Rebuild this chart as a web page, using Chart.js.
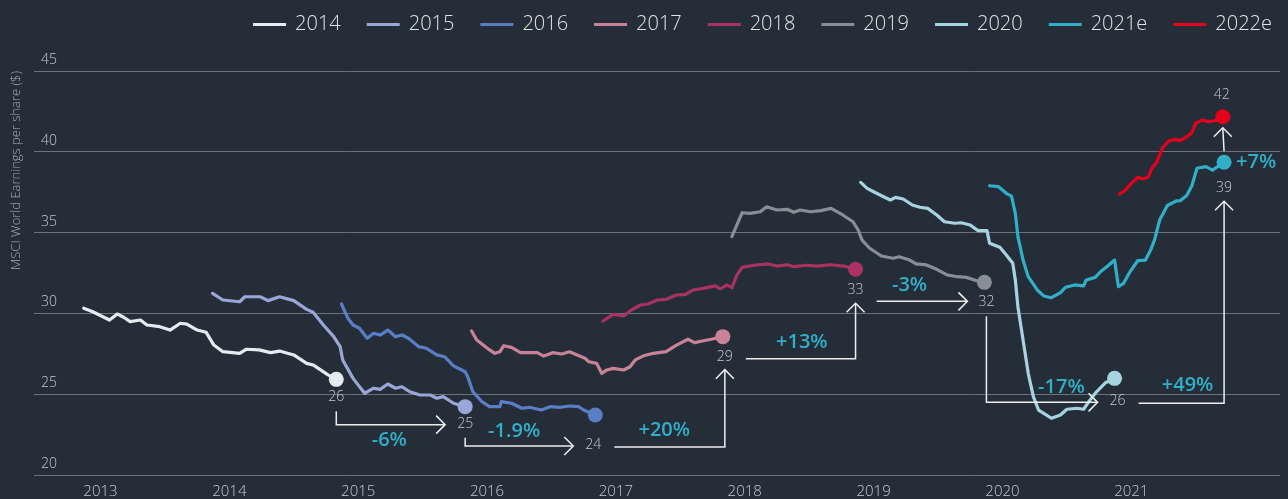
<!DOCTYPE html>
<html>
<head>
<meta charset="utf-8">
<title>MSCI World EPS estimates</title>
<script src="https://cdn.jsdelivr.net/npm/chart.js@4.4.1/dist/chart.umd.min.js"></script>
<style>
  html, body { margin: 0; padding: 0; background: #252e38; }
  #wrap { width: 1288px; height: 499px; }
</style>
</head>
<body>
<div id="wrap"><canvas id="epsChart" width="1288" height="499"></canvas></div>
<script>
// series names, colours and tick labels
const seriesNames = ['2014', '2015', '2016', '2017', '2018', '2019', '2020', '2021e', '2022e'];
const seriesColors = ['#e2edf2', '#9aa6d7', '#5a7ec5', '#c98399', '#a93263', '#878e95', '#a7d3e0', '#31afc8', '#e6001c'];
const yearTicks = [2013, 2014, 2015, 2016, 2017, 2018, 2019, 2020, 2021];
const epsTicks = [20, 25, 30, 35, 40, 45];

// consensus EPS estimate for each year (x = decimal year, y = $)
const dates14 = [2012.87, 2012.94, 2013.07, 2013.13, 2013.18, 2013.23, 2013.31, 2013.36, 2013.46, 2013.54, 2013.62, 2013.67, 2013.75, 2013.82, 2013.88, 2013.95, 2014.08, 2014.13, 2014.23, 2014.32, 2014.39, 2014.50, 2014.60, 2014.65, 2014.76, 2014.83];
const eps14 = [30.32, 30.10, 29.59, 29.96, 29.76, 29.49, 29.59, 29.28, 29.18, 28.97, 29.39, 29.34, 28.97, 28.83, 28.04, 27.63, 27.53, 27.78, 27.74, 27.57, 27.67, 27.43, 26.91, 26.81, 26.23, 25.92];

const dates15 = [2013.87, 2013.95, 2014.08, 2014.12, 2014.24, 2014.30, 2014.39, 2014.50, 2014.60, 2014.65, 2014.73, 2014.81, 2014.86, 2014.88, 2014.96, 2015.05, 2015.12, 2015.17, 2015.23, 2015.29, 2015.34, 2015.40, 2015.48, 2015.56, 2015.61, 2015.66, 2015.74, 2015.83];
const eps15 = [31.24, 30.83, 30.72, 31.03, 31.03, 30.79, 31.03, 30.79, 30.25, 30.07, 29.28, 28.56, 27.94, 27.12, 25.98, 25.06, 25.37, 25.30, 25.63, 25.37, 25.46, 25.15, 24.95, 24.95, 24.75, 24.85, 24.44, 24.23];

const dates16 = [2014.87, 2014.92, 2014.96, 2015.01, 2015.07, 2015.12, 2015.17, 2015.23, 2015.29, 2015.34, 2015.39, 2015.47, 2015.53, 2015.61, 2015.67, 2015.74, 2015.83, 2015.85, 2015.89, 2015.96, 2016.02, 2016.10, 2016.11, 2016.19, 2016.27, 2016.33, 2016.42, 2016.49, 2016.57, 2016.64, 2016.71, 2016.75, 2016.84];
const eps16 = [30.58, 29.70, 29.28, 29.08, 28.46, 28.77, 28.66, 28.97, 28.56, 28.66, 28.46, 27.94, 27.84, 27.43, 27.32, 26.75, 26.39, 26.08, 25.15, 24.54, 24.23, 24.23, 24.54, 24.44, 24.13, 24.19, 24.02, 24.23, 24.19, 24.27, 24.23, 24.02, 23.71];

const dates17 = [2015.88, 2015.92, 2015.97, 2016.02, 2016.06, 2016.10, 2016.13, 2016.19, 2016.26, 2016.33, 2016.39, 2016.44, 2016.51, 2016.58, 2016.64, 2016.70, 2016.76, 2016.79, 2016.85, 2016.89, 2016.93, 2016.98, 2017.06, 2017.11, 2017.15, 2017.21, 2017.29, 2017.39, 2017.47, 2017.56, 2017.61, 2017.68, 2017.74, 2017.83];
const eps17 = [28.91, 28.35, 28.04, 27.74, 27.53, 27.63, 28.00, 27.90, 27.57, 27.57, 27.57, 27.36, 27.57, 27.49, 27.63, 27.43, 27.22, 27.01, 26.91, 26.29, 26.50, 26.60, 26.50, 26.70, 27.12, 27.36, 27.53, 27.63, 28.04, 28.40, 28.19, 28.31, 28.40, 28.56];

const dates18 = [2016.90, 2016.98, 2017.06, 2017.12, 2017.19, 2017.25, 2017.32, 2017.39, 2017.47, 2017.54, 2017.60, 2017.68, 2017.77, 2017.81, 2017.86, 2017.90, 2017.94, 2017.98, 2018.07, 2018.18, 2018.25, 2018.33, 2018.38, 2018.48, 2018.56, 2018.66, 2018.77, 2018.86];
const eps18 = [29.53, 29.94, 29.84, 30.21, 30.52, 30.58, 30.83, 30.87, 31.14, 31.18, 31.45, 31.55, 31.70, 31.51, 31.76, 31.59, 32.38, 32.85, 32.98, 33.06, 32.93, 33.01, 32.89, 32.98, 32.93, 33.01, 32.93, 32.73];

const dates19 = [2017.90, 2017.98, 2018.04, 2018.12, 2018.17, 2018.25, 2018.33, 2018.38, 2018.43, 2018.51, 2018.59, 2018.67, 2018.76, 2018.84, 2018.88, 2018.91, 2018.97, 2019.06, 2019.15, 2019.20, 2019.28, 2019.33, 2019.41, 2019.49, 2019.57, 2019.65, 2019.72, 2019.80, 2019.86];
const eps19 = [34.75, 36.23, 36.19, 36.29, 36.60, 36.40, 36.44, 36.26, 36.40, 36.29, 36.36, 36.50, 36.09, 35.67, 35.16, 34.54, 34.03, 33.55, 33.41, 33.51, 33.30, 33.06, 33.00, 32.73, 32.38, 32.27, 32.23, 32.02, 31.92];

const dates20 = [2018.90, 2018.95, 2019.00, 2019.05, 2019.13, 2019.17, 2019.23, 2019.30, 2019.36, 2019.42, 2019.49, 2019.55, 2019.63, 2019.68, 2019.75, 2019.81, 2019.88, 2019.90, 2019.98, 2020.03, 2020.08, 2020.10, 2020.12, 2020.16, 2020.20, 2020.24, 2020.28, 2020.33, 2020.38, 2020.45, 2020.50, 2020.58, 2020.63, 2020.67, 2020.73, 2020.80, 2020.87];
const eps20 = [38.11, 37.74, 37.53, 37.33, 37.02, 37.18, 37.08, 36.71, 36.57, 36.50, 36.09, 35.67, 35.58, 35.61, 35.47, 35.12, 35.12, 34.34, 34.09, 33.61, 33.10, 32.07, 30.41, 28.35, 26.29, 24.85, 24.02, 23.77, 23.51, 23.71, 24.07, 24.13, 24.07, 24.54, 25.15, 25.71, 25.98];

const dates21 = [2019.90, 2019.97, 2020.03, 2020.07, 2020.10, 2020.12, 2020.16, 2020.20, 2020.27, 2020.32, 2020.38, 2020.45, 2020.49, 2020.56, 2020.63, 2020.65, 2020.72, 2020.76, 2020.81, 2020.87, 2020.90, 2020.94, 2020.99, 2021.05, 2021.11, 2021.15, 2021.18, 2021.22, 2021.28, 2021.35, 2021.38, 2021.43, 2021.47, 2021.51, 2021.58, 2021.63, 2021.67, 2021.72];
const eps21 = [37.90, 37.84, 37.43, 37.26, 36.19, 34.75, 33.30, 32.27, 31.45, 31.08, 30.97, 31.28, 31.62, 31.76, 31.70, 32.07, 32.23, 32.58, 32.89, 33.30, 31.65, 31.86, 32.58, 33.26, 33.30, 33.92, 34.54, 35.78, 36.68, 36.96, 36.97, 37.30, 37.90, 38.98, 39.08, 38.87, 39.08, 39.35];

const dates22 = [2020.91, 2020.95, 2021.00, 2021.05, 2021.09, 2021.13, 2021.16, 2021.20, 2021.24, 2021.29, 2021.34, 2021.38, 2021.43, 2021.47, 2021.50, 2021.55, 2021.60, 2021.65, 2021.71];
const eps22 = [37.39, 37.59, 38.05, 38.42, 38.32, 38.42, 38.98, 39.39, 40.22, 40.67, 40.77, 40.69, 40.93, 41.18, 41.76, 41.97, 41.86, 41.92, 42.17];

// final values printed next to the end dots, and the change between them
const endLabels = ['26', '25', '24', '29', '33', '32', '26', '39', '42'];
const changeLabels = ['-6%', '-1.9%', '+20%', '+13%', '-3%', '-17%', '+49%', '+7%'];

const allDates = [dates14, dates15, dates16, dates17, dates18, dates19, dates20, dates21, dates22];
const allEps = [eps14, eps15, eps16, eps17, eps18, eps19, eps20, eps21, eps22];

// layout of the annotations (pixel offsets from the end dots)
const labelOffsets = [[0, 18], [0, 17], [-2, 30], [2, 20], [0, 21], [2, 20], [3, 23], [0, 26], [-1, -22]];
const connectorTypes = ['downRight', 'downRight', 'rightUp', 'rightUp', 'right', 'downRight', 'rightUp', 'up'];
const changeOffsets = [[53, 16], [49, -15], [50, -17], [56, -16], [33, -16], [75, -15], [49, -18], [12, 0]];

const tickColor = '#c3c8cd';
const fontFamily = '"Open Sans", "Noto Sans", sans-serif';

const datasets = seriesNames.map((name, i) => ({
    label: name,
    data: allDates[i].map((d, j) => ({ x: d, y: allEps[i][j] })),
    borderColor: seriesColors[i],
    backgroundColor: seriesColors[i],
    pointBackgroundColor: seriesColors[i],
    borderWidth: 3.2,
    borderJoinStyle: 'round',
    borderCapStyle: 'round',
    tension: 0,
    pointBorderWidth: 0,
    pointRadius: ctx => ctx.dataIndex === allDates[i].length - 1 ? 7.5 : 0,
    pointHoverRadius: 0,
    order: seriesNames.length - i
}));

function arrowHead(ctx, x, y, dir) {
    ctx.beginPath();
    if (dir === 'right') {
        ctx.moveTo(x - 9, y - 9);
        ctx.lineTo(x, y);
        ctx.lineTo(x - 9, y + 9);
    } else {
        ctx.moveTo(x - 9, y + 9);
        ctx.lineTo(x, y);
        ctx.lineTo(x + 9, y + 9);
    }
    ctx.stroke();
}

// end values, elbow arrows and % changes
const annotate = {
    id: 'annotate',
    afterDatasetsDraw(chart) {
        const { ctx, scales: { x, y } } = chart;
        const dots = allDates.map((d, i) => ({
            x: x.getPixelForValue(d[d.length - 1]),
            y: y.getPixelForValue(allEps[i][allEps[i].length - 1])
        }));
        const labels = dots.map((p, i) => ({ x: p.x + labelOffsets[i][0], y: p.y + labelOffsets[i][1] }));

        ctx.save();
        ctx.textAlign = 'center';
        ctx.textBaseline = 'middle';
        ctx.font = '300 14px ' + fontFamily;
        ctx.fillStyle = tickColor;
        labels.forEach((p, i) => ctx.fillText(endLabels[i], p.x, p.y));

        ctx.strokeStyle = '#eceef0';
        ctx.lineWidth = 1.5;
        ctx.lineJoin = 'miter';
        connectorTypes.forEach((type, i) => {
            const a = labels[i], b = labels[i + 1];
            let pts, dir, anchor;
            if (type === 'downRight') {
                pts = [[a.x, a.y + 14], [a.x, b.y + 1], [b.x - 20, b.y + 1]];
                dir = 'right';
                anchor = pts[1];
            } else if (type === 'rightUp') {
                pts = [[a.x + 21, a.y + 2], [b.x, a.y + 2], [b.x, b.y + 13]];
                dir = 'up';
                anchor = pts[0];
            } else if (type === 'right') {
                pts = [[a.x + 21, b.y - 1], [b.x - 19, b.y - 1]];
                dir = 'right';
                anchor = pts[0];
            } else {
                pts = [[dots[i].x, dots[i].y - 11], [dots[i + 1].x, dots[i + 1].y + 11]];
                dir = 'up';
                anchor = [dots[i].x, dots[i].y];
            }
            ctx.beginPath();
            ctx.moveTo(pts[0][0], pts[0][1]);
            for (let k = 1; k < pts.length; k++) ctx.lineTo(pts[k][0], pts[k][1]);
            ctx.stroke();
            const end = pts[pts.length - 1];
            arrowHead(ctx, end[0], end[1], dir);

            ctx.font = '600 20px ' + fontFamily;
            ctx.fillStyle = '#31afc8';
            ctx.textAlign = type === 'up' ? 'left' : 'center';
            ctx.fillText(changeLabels[i], anchor[0] + changeOffsets[i][0], anchor[1] + changeOffsets[i][1]);
        });
        ctx.restore();
    }
};

// legend row at the top right
const topLegend = {
    id: 'topLegend',
    afterDraw(chart) {
        const ctx = chart.ctx;
        ctx.save();
        ctx.font = '300 20px ' + fontFamily;
        ctx.textBaseline = 'middle';
        ctx.textAlign = 'left';
        let x = chart.width - 16;
        for (let i = seriesNames.length - 1; i >= 0; i--) {
            x -= ctx.measureText(seriesNames[i]).width;
            ctx.fillStyle = '#e1e4e7';
            ctx.fillText(seriesNames[i], x, 24);
            x -= 9 + 33;
            ctx.fillStyle = seriesColors[i];
            ctx.fillRect(x, 23, 33, 3);
            x -= 26;
        }
        ctx.restore();
    }
};

new Chart(document.getElementById('epsChart'), {
    type: 'line',
    data: { datasets: datasets },
    options: {
        responsive: false,
        animation: false,
        layout: { padding: { top: 71, right: 8, bottom: 0, left: 0 } },
        plugins: {
            legend: { display: false },
            tooltip: { enabled: false }
        },
        scales: {
            x: {
                type: 'linear',
                min: 2012.484,
                max: 2022.154,
                afterBuildTicks: s => { s.ticks = yearTicks.map(v => ({ value: v })); },
                afterFit: s => { s.height = 24; s.paddingLeft = 0; s.paddingRight = 0; },
                grid: { display: false, drawTicks: false },
                border: { display: false },
                ticks: {
                    color: tickColor,
                    font: { family: fontFamily, size: 15, weight: '300' },
                    padding: 8,
                    autoSkip: false,
                    maxRotation: 0,
                    callback: v => String(v)
                }
            },
            y: {
                min: 20,
                max: 45,
                afterBuildTicks: s => { s.ticks = epsTicks.map(v => ({ value: v })); },
                afterFit: s => { s.width = 34; s.paddingTop = 0; s.paddingBottom = 0; },
                grid: { color: '#6a737c', lineWidth: 1, drawTicks: false },
                border: { display: false },
                ticks: {
                    mirror: true,
                    padding: 7,
                    labelOffset: -11,
                    color: tickColor,
                    font: { family: fontFamily, size: 14, weight: '300' }
                },
                title: {
                    display: true,
                    text: 'MSCI World Earnings per share ($)',
                    align: 'end',
                    color: '#a3a9ae',
                    font: { family: fontFamily, size: 13, weight: '300' },
                    padding: { top: 8, bottom: 0 }
                }
            }
        }
    },
    plugins: [annotate, topLegend]
});
</script>
</body>
</html>
